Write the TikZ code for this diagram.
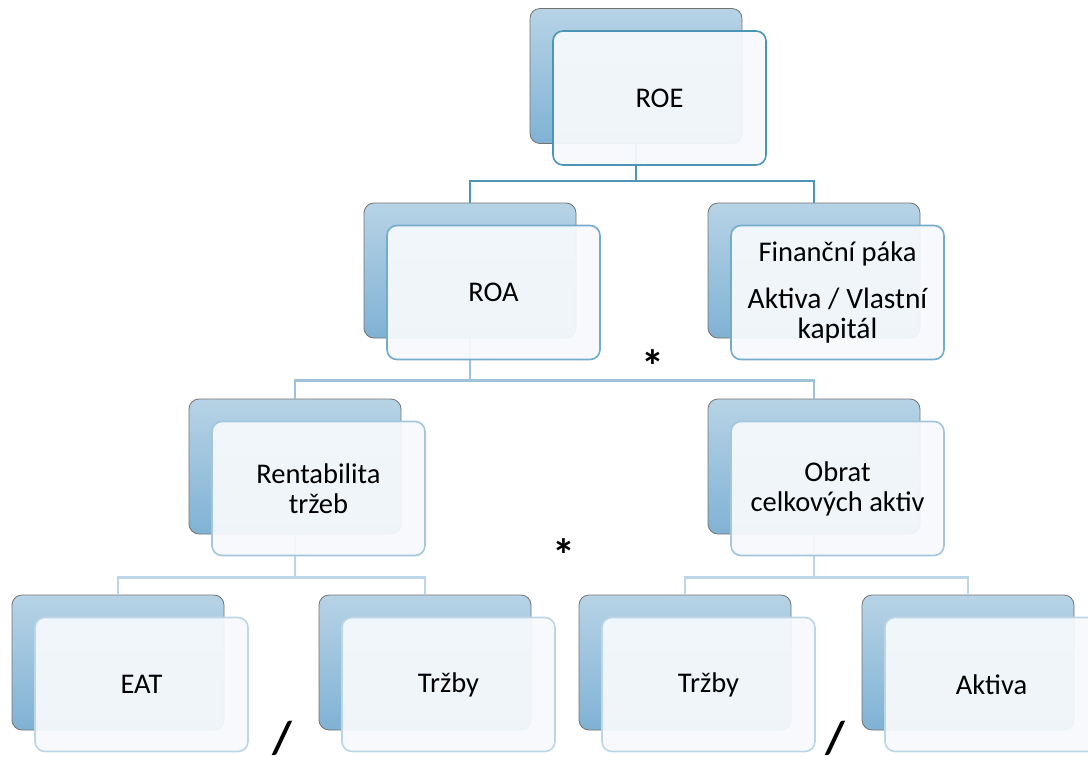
\documentclass[tikz,border=0pt]{standalone}
\usepackage{fontspec}
\setmainfont{Carlito}
\usetikzlibrary{positioning,calc}

\definecolor{backtop}{HTML}{B7D3E6}
\definecolor{backbot}{HTML}{80B2D4}
\definecolor{frontfill}{HTML}{F6F9FC}
\definecolor{lvlA}{HTML}{4B96B8}
\definecolor{lvlB}{HTML}{73ABCC}
\definecolor{lvlC}{HTML}{A3C6DD}
\definecolor{lvlD}{HTML}{BDD6E7}
\definecolor{linkB}{HTML}{9DC2DA}

\newcommand{\boxfont}{\fontsize{28.5}{30}\selectfont}
\newcommand{\opfont}{\fontsize{46}{46}\selectfont\bfseries}

\tikzset{
  backbox/.style={draw=black!55, line width=0.8pt, rounded corners=10pt,
    minimum width=212pt, minimum height=135pt,
    top color=backtop, bottom color=backbot},
  frontbox/.style={draw=#1, line width=1.6pt, rounded corners=10pt,
    fill=frontfill, fill opacity=0.94, text opacity=1,
    minimum width=213pt, minimum height=134pt, align=center, font=\boxfont},
  link/.style={draw=#1, line width=2.4pt},
  op/.style={anchor=base, font=\opfont, inner sep=0pt}
}

\begin{document}
\begin{tikzpicture}[x=1pt, y=-1pt]
    \useasboundingbox (0,0) rectangle (1088,756);

    % back boxes
    \node[backbox] (roeB)  at (636,76)    {};
    \node[backbox] (roaB)  at (470,270.5) {};
    \node[backbox] (pakaB) at (814,270.5) {};
    \node[backbox] (rtB)   at (295,466.5) {};
    \node[backbox] (obrB)  at (814,466.5) {};
    \node[backbox] (eatB)  at (118,662.5) {};
    \node[backbox] (trzAB) at (425,662.5) {};
    \node[backbox] (trzBB) at (685,662.5) {};
    \node[backbox] (aktB)  at (968,662.5) {};

    % connectors (behind the front boxes)
    \draw[link=lvlA] (roeB.south) -- ++(0,37) -| (roaB.north);
    \draw[link=lvlA] (roeB.south) -- ++(0,37) -| (pakaB.north);
    \draw[link=linkB] (roaB.south) -- ++(0,42) -| (rtB.north);
    \draw[link=linkB] (roaB.south) -- ++(0,42) -| (obrB.north);
    \draw[link=lvlD] (rtB.south) -- ++(0,43) -| (eatB.north);
    \draw[link=lvlD] (rtB.south) -- ++(0,43) -| (trzAB.north);
    \draw[link=lvlD] (obrB.south) -- ++(0,43) -| (trzBB.north);
    \draw[link=lvlD] (obrB.south) -- ++(0,43) -| (aktB.north);

    % front boxes
    \node[frontbox=lvlA] (roe)  at ($(roeB)+(23.5,22)$) {ROE};
    \node[frontbox=lvlB] (roa)  at ($(roaB)+(23.5,22)$) {ROA};
    \node[frontbox=lvlB] (paka) at ($(pakaB)+(23.5,22)$)
      {Finanční páka\\[17pt]{\fontsize{29.5}{30}\selectfont Aktiva / Vlastní}\\{\fontsize{29.5}{30}\selectfont kapitál}};
    \node[frontbox=lvlC] (rt)   at ($(rtB)+(23.5,22)$) {Rentabilita\\tržeb};
    \node[frontbox=lvlC] (obr)  at ($(obrB)+(23.5,22)$) {Obrat\\celkových aktiv};
    \node[frontbox=lvlD] (eat)  at ($(eatB)+(23.5,22)$) {EAT};
    \node[frontbox=lvlD] (trzA) at ($(trzAB)+(23.5,22)$) {Tržby};
    \node[frontbox=lvlD] (trzB) at ($(trzBB)+(23.5,22)$) {Tržby};
    \node[frontbox=lvlD] (akt)  at ($(aktB)+(23.5,22)$) {Aktiva};

    % operators between the boxes
    \node[op] (mulA) at (653,382) {*};
    \node[op] (mulB) at (564,571) {*};
    \node[op] (divA) at (282,753) {/};
    \node[op] (divB) at (835,753) {/};
\end{tikzpicture}
\end{document}
